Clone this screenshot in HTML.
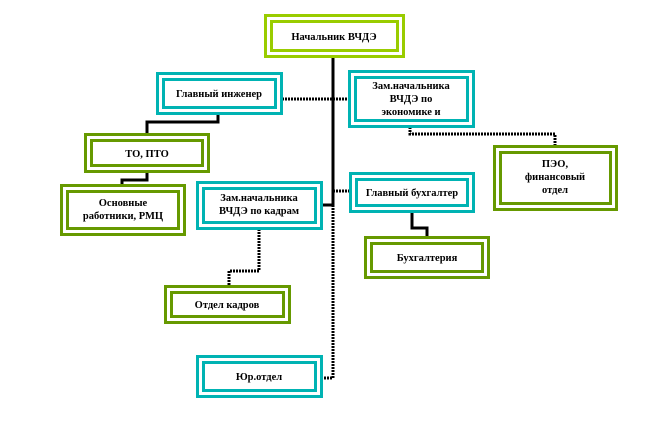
<!DOCTYPE html>
<html><head><meta charset="utf-8"><style>
body{margin:0;background:#fff}
svg{display:block}
text{font-family:"Liberation Serif","DejaVu Serif",serif;font-size:10.5px;font-weight:bold;fill:#000;text-anchor:middle}
</style></head><body>
<svg width="668" height="421" viewBox="0 0 668 421">
<g fill="none" stroke="#000" stroke-width="3">
<line x1="333" y1="57" x2="333" y2="205"/>
<line x1="282" y1="99" x2="350" y2="99" stroke-dasharray="2 1"/>
<line x1="322" y1="205" x2="333" y2="205"/>
<line x1="333" y1="191" x2="350" y2="191" stroke-dasharray="2 1"/>
<polyline points="333,205 333,378 322,378" stroke-dasharray="2 1"/>
<polyline points="218,114 218,122 147,122 147,133"/>
<polyline points="147,172 147,180 122,180 122,184"/>
<polyline points="410,127 410,134 555,134 555,145" stroke-dasharray="2 1"/>
<polyline points="259,229 259,271 229,271 229,285" stroke-dasharray="2 1"/>
<polyline points="412,212 412,228 427,228 427,236"/>
</g>
<g fill="#fff" stroke-width="3">
<g stroke="#99cc00"><rect x="265.5" y="15.5" width="138" height="41"/><rect x="271.5" y="21.5" width="126" height="29"/></g>
<g stroke="#00b3b3">
<rect x="157.5" y="73.5" width="124" height="40"/><rect x="163.5" y="79.5" width="112" height="28"/>
<rect x="349.5" y="71.5" width="124" height="55"/><rect x="355.5" y="77.5" width="112" height="43"/>
<rect x="197.5" y="182.5" width="124" height="46"/><rect x="203.5" y="188.5" width="112" height="34"/>
<rect x="350.5" y="173.5" width="123" height="38"/><rect x="356.5" y="179.5" width="111" height="26"/>
<rect x="197.5" y="356.5" width="124" height="40"/><rect x="203.5" y="362.5" width="112" height="28"/>
</g>
<g stroke="#669900">
<rect x="85.5" y="134.5" width="123" height="37"/><rect x="91.5" y="140.5" width="111" height="25"/>
<rect x="494.5" y="146.5" width="122" height="63"/><rect x="500.5" y="152.5" width="110" height="51"/>
<rect x="61.5" y="185.5" width="123" height="49"/><rect x="67.5" y="191.5" width="111" height="37"/>
<rect x="365.5" y="237.5" width="123" height="40"/><rect x="371.5" y="243.5" width="111" height="28"/>
<rect x="165.5" y="286.5" width="124" height="36"/><rect x="171.5" y="292.5" width="112" height="24"/>
</g>
</g>
<text x="334" y="40">Начальник ВЧДЭ</text>
<text x="219" y="97">Главный инженер</text>
<text x="411" y="89">Зам.начальника</text>
<text x="411" y="102">ВЧДЭ по</text>
<text x="411" y="115">экономике  и</text>
<text x="147" y="157">ТО, ПТО</text>
<text x="555" y="167">ПЭО,</text>
<text x="555" y="180">финансовый</text>
<text x="555" y="193">отдел</text>
<text x="123" y="206">Основные</text>
<text x="123" y="219">работники, РМЦ</text>
<text x="259" y="201">Зам.начальника</text>
<text x="259" y="214">ВЧДЭ по кадрам</text>
<text x="412" y="196">Главный бухгалтер</text>
<text x="427" y="261">Бухгалтерия</text>
<text x="227" y="308">Отдел кадров</text>
<text x="259" y="380">Юр.отдел</text>
</svg>
</body></html>
